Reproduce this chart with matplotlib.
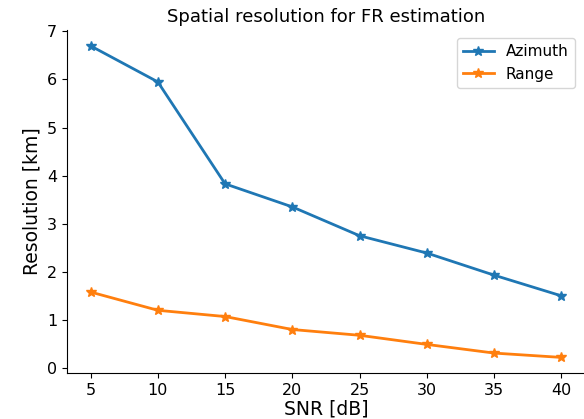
import matplotlib
matplotlib.use("Agg")
import matplotlib.pyplot as plt

snr = [5, 10, 15, 20, 25, 30, 35, 40]
azimuth = [6.7, 5.95, 3.83, 3.35, 2.75, 2.39, 1.93, 1.5]
rng = [1.58, 1.2, 1.07, 0.8, 0.68, 0.49, 0.31, 0.22]

fig = plt.figure(figsize=(5.84, 4.19), dpi=100)
ax = fig.add_axes([0.1147, 0.1098, 0.887, 0.818])

ax.plot(snr, azimuth, '-*', color='#1f77b4', linewidth=2, markersize=7, label='Azimuth')
ax.plot(snr, rng, '-*', color='#ff7f0e', linewidth=2, markersize=7, label='Range')

ax.spines['top'].set_visible(False)
ax.spines['right'].set_visible(False)
ax.set_xticks(snr)
ax.tick_params(labelsize=11.5)

ax.set_title('Spatial resolution for FR estimation', fontsize=13)
ax.set_xlabel('SNR [dB]', fontsize=13.5, labelpad=1)
ax.set_ylabel('Resolution [km]', fontsize=13.5)
ax.legend(fontsize=11, loc='upper right', bbox_to_anchor=(0.995, 1.0))

fig.savefig('out.png', dpi=100)
